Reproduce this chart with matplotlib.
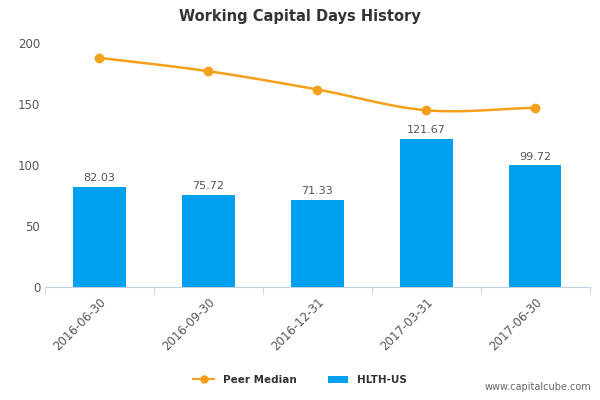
import matplotlib
matplotlib.use("Agg")
import matplotlib.pyplot as plt
import numpy as np

categories = ["2016-06-30", "2016-09-30", "2016-12-31", "2017-03-31", "2017-06-30"]
hlth = [82.03, 75.72, 71.33, 121.67, 99.72]
peer = [188, 177, 162, 145, 147]
yticks = [0, 50, 100, 150, 200]

fig = plt.figure(figsize=(6, 4), dpi=100)
ax = fig.add_axes([0.075, 0.2825, 0.908, 0.64])
x = np.arange(len(categories))
ax.bar(x, hlth, width=0.48, color="#00a0f0", label="HLTH-US", zorder=2)
for xi, v in zip(x, hlth):
    ax.text(xi, v + 3, f"{v:.2f}", ha="center", va="bottom", fontsize=8, color="#555555")

# smooth curve through peer points (Catmull-Rom, for drawing only)
px, py = [], []
p = np.array(peer, dtype=float)
pp = np.concatenate([[2*p[0]-p[1]], p, [2*p[-1]-p[-2]]])
for i in range(len(p)-1):
    t = np.linspace(0, 1, 30)
    p0, p1, p2, p3 = pp[i], pp[i+1], pp[i+2], pp[i+3]
    y = 0.5*((2*p1) + (-p0+p2)*t + (2*p0-5*p1+4*p2-p3)*t**2 + (-p0+3*p1-3*p2+p3)*t**3)
    px.extend(i + t); py.extend(y)
ax.plot(px, py, color="#f5a01a", lw=1.8, zorder=3)
ax.plot(x, peer, "o", color="#f5a01a", ms=6, zorder=4)
ax.plot([], [], "-o", color="#f5a01a", ms=5, label="Peer Median")

ax.set_xlim(-0.5, len(categories)-0.5)
ax.set_ylim(0, 210)
ax.set_yticks(yticks)
ax.set_xticks(x)
ax.set_xticklabels(categories, rotation=45, ha="right", rotation_mode="anchor", fontsize=8.5, color="#555555")
ax.set_xticks(np.arange(-0.5, len(categories)), minor=True)
ax.tick_params(axis="x", which="major", length=0, pad=6)
ax.tick_params(axis="x", which="minor", length=5, color="#c0d0e0")
ax.tick_params(axis="y", length=0, labelsize=8.5, labelcolor="#555555")
for s in ["top", "right", "left"]:
    ax.spines[s].set_visible(False)
ax.spines["bottom"].set_color("#c0d0e0")
fig.text(0.5, 0.96, "Working Capital Days History", ha="center", va="center", fontsize=10.5, fontweight="bold", color="#333333")
leg = fig.legend(loc="center", bbox_to_anchor=(0.5, 0.05), ncol=2, frameon=False, fontsize=7.5, handlelength=2, columnspacing=3)
for t in leg.get_texts():
    t.set_fontweight("bold"); t.set_color("#333333")
fig.text(0.985, 0.02, "www.capitalcube.com", ha="right", va="bottom", fontsize=7, color="#666666")
fig.savefig("out.png", dpi=100)
